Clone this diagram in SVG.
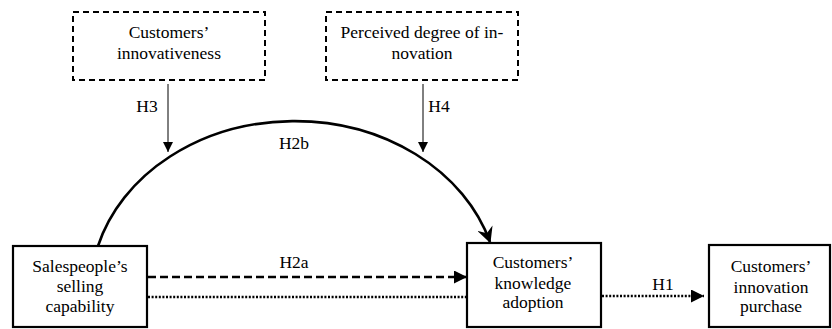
<svg xmlns="http://www.w3.org/2000/svg" width="832" height="329" viewBox="0 0 832 329">
<style>
text{font-size:17.5px;fill:#000;text-anchor:middle}
.box{fill:#fff;stroke:#000;stroke-width:2.2}
.dbox{fill:#fff;stroke:#000;stroke-width:2;stroke-dasharray:6,4}
.thin{fill:none;stroke:#000;stroke-width:1}
.arc{fill:none;stroke:#000;stroke-width:2.6}
.dash{fill:none;stroke:#000;stroke-width:2.6;stroke-dasharray:8,4}
.dot{fill:none;stroke:#000;stroke-width:2.6;stroke-dasharray:2,1.6}
</style>
<defs>
<marker id="tri" viewBox="0 0 10 10" refX="10" refY="5" markerWidth="10" markerHeight="10" markerUnits="userSpaceOnUse" orient="auto"><path d="M0,0 L10,5 L0,10 z" fill="#000"/></marker>
<marker id="tri2" viewBox="0 0 10 10" refX="10" refY="5" markerWidth="5" markerHeight="5" markerUnits="strokeWidth" orient="auto"><path d="M0,0 L10,5 L0,10 z" fill="#000"/></marker>
<marker id="barb" viewBox="0 0 12 12" refX="11" refY="6" markerWidth="16" markerHeight="16" markerUnits="userSpaceOnUse" orient="auto"><path d="M0,0 L12,6 L0,12 L4,6 z" fill="#000"/></marker>
</defs>
<rect width="832" height="329" fill="#fff"/>
<g font-family="'Liberation Serif', 'Times New Roman', 'DejaVu Serif', serif">
<g id="connectors">
<path class="arc" d="M98,246 A204,170 0 0,1 490,242" marker-end="url(#barb)"/>
<line class="thin" x1="168" y1="84" x2="168" y2="152" marker-end="url(#tri)"/>
<line class="thin" x1="423" y1="84" x2="423" y2="152" marker-end="url(#tri)"/>
<line class="dash" x1="148" y1="277" x2="467" y2="277" marker-end="url(#tri2)"/>
<line class="dot" x1="148" y1="297" x2="466" y2="297"/>
<line class="dot" x1="602" y1="296" x2="704" y2="296" marker-end="url(#tri2)"/>
<text x="147" y="112">H3</text>
<text x="439" y="112">H4</text>
<text x="294" y="149">H2b</text>
<text x="294" y="268">H2a</text>
<text x="663" y="290">H1</text>
</g>
<g id="innovativeness">
<rect class="dbox" x="73" y="12" width="192" height="68"/>
<text x="169" y="38">Customers’</text>
<text x="169" y="59">innovativeness</text>
</g>
<g id="perceived">
<rect class="dbox" x="326" y="12" width="192" height="68"/>
<text x="422" y="38">Perceived degree of in-</text>
<text x="422" y="59">novation</text>
</g>
<g id="salespeople">
<rect class="box" x="13" y="246" width="134" height="81"/>
<text x="80" y="272">Salespeople’s</text>
<text x="80" y="292">selling</text>
<text x="80" y="312">capability</text>
</g>
<g id="knowledge">
<rect class="box" x="467" y="243" width="134" height="84"/>
<text x="533" y="268">Customers’</text>
<text x="533" y="289">knowledge</text>
<text x="533" y="308">adoption</text>
</g>
<g id="purchase">
<rect class="box" x="709" y="245" width="121" height="82"/>
<text x="771" y="272">Customers’</text>
<text x="771" y="293">innovation</text>
<text x="771" y="312">purchase</text>
</g>
</g>
</svg>
